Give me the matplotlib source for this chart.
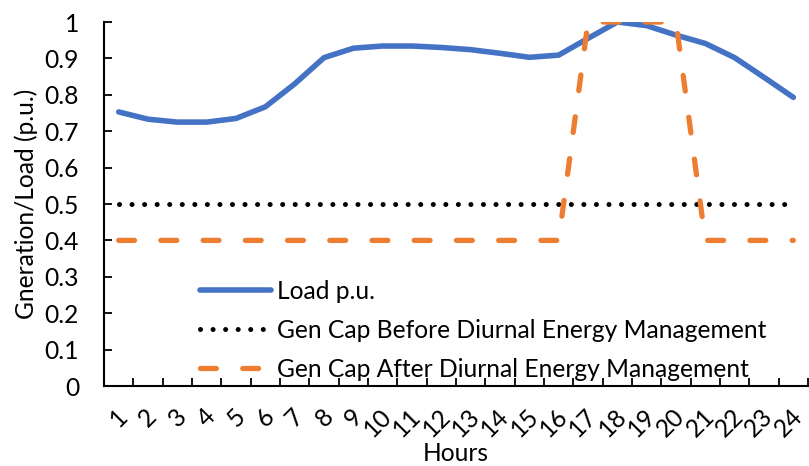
import numpy as np
import matplotlib
matplotlib.use('Agg')
import matplotlib.pyplot as plt
import matplotlib.transforms as mtransforms

plt.rcParams['font.family'] = ['Lato', 'DejaVu Sans']

hours = [str(h) for h in range(1, 25)]
load_pu = [0.753, 0.733, 0.725, 0.725, 0.735, 0.767, 0.830, 0.902,
           0.928, 0.934, 0.934, 0.930, 0.924, 0.914, 0.903, 0.909,
           0.955, 1.000, 0.990, 0.964, 0.941, 0.902, 0.848, 0.793]
gen_before = [0.5] * 24
gen_after = [0.4] * 16 + [1.0] * 4 + [0.4] * 4

W, H = 809, 466
FS = 17.7
fig = plt.figure(figsize=(W / 100, H / 100), dpi=100)
ax = fig.add_axes([104 / W, 1 - 386 / H, (808 - 104) / W, (386 - 22) / H])

x = np.arange(len(hours))
ax.plot(x, load_pu, color='#4472C4', lw=4.0, solid_capstyle='round',
        solid_joinstyle='round', label='Load p.u.')
ax.plot(x, gen_before, color='black', lw=3.6, dash_capstyle='round',
        linestyle=(0, (0.01, 2.5)), label='Gen Cap Before Diurnal Energy Management')
ax.plot(x, gen_after, color='#ED7D31', lw=3.8, dash_capstyle='round',
        linestyle=(0, (3.0, 5.0)), label='Gen Cap After Diurnal Energy Management')

ax.set_xlim(-0.5, len(hours) - 0.5)
ax.set_ylim(0, 1)
ax.set_yticks(np.arange(0, 1.01, 0.1))
ax.set_yticklabels(['0', '0.1', '0.2', '0.3', '0.4', '0.5', '0.6', '0.7', '0.8', '0.9', '1'])
ax.set_xticks(x)
ax.set_xticklabels(hours, rotation=45, ha='right', va='top', rotation_mode='anchor')
ax.set_xticks(np.arange(-0.5, len(hours)), minor=True)
ax.tick_params(axis='x', which='major', length=0, pad=13, labelsize=FS)
ax.tick_params(axis='x', which='minor', direction='in', length=6, width=1.3)
ax.tick_params(axis='y', direction='in', length=6, width=1.3, labelsize=FS, pad=18)

# nudge the rotated hour labels a little to the left
shift = mtransforms.ScaledTranslation(-3 / 100, 0, fig.dpi_scale_trans)
for lbl in ax.get_xticklabels():
    lbl.set_transform(lbl.get_transform() + shift)

for s in ['top', 'right']:
    ax.spines[s].set_visible(False)
for s in ['left', 'bottom']:
    ax.spines[s].set_linewidth(1.5)

ax.set_ylabel('Gneration/Load (p.u.)', fontsize=FS, labelpad=5)
ax.set_xlabel('Hours', fontsize=FS, va='baseline')
# baseline of "Hours" about 461 px from the top (axes bottom at 386, height 364)
ax.xaxis.set_label_coords(0.5, -(461 - 386) / (386 - 22))

fig.legend(loc='upper left', bbox_to_anchor=(200 / W, 1 - 280 / H), frameon=False,
           fontsize=FS, handlelength=2.9, handletextpad=0.25, labelspacing=0.65,
           borderpad=0, borderaxespad=0)

fig.savefig('out.png', dpi=100)
